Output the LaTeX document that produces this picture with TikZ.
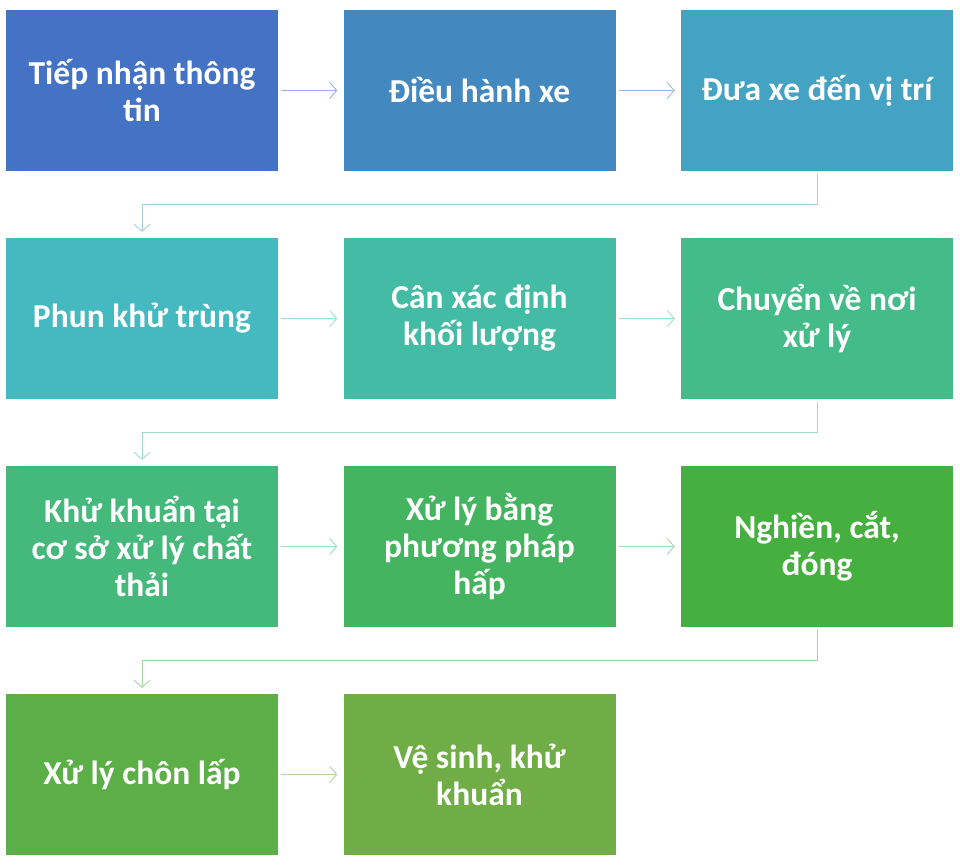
\documentclass[tikz,border=0pt]{standalone}
\usepackage{fontspec}
\setmainfont{Carlito}
\usetikzlibrary{arrows.meta}
\definecolor{c1}{HTML}{4472C4}
\definecolor{c2}{HTML}{4389BF}
\definecolor{c3}{HTML}{44A2C2}
\definecolor{c4}{HTML}{44B9BF}
\definecolor{c5}{HTML}{44BBA4}
\definecolor{c6}{HTML}{43BC8A}
\definecolor{c7}{HTML}{45B87C}
\definecolor{c8}{HTML}{45B460}
\definecolor{c9}{HTML}{45B03F}
\definecolor{c10}{HTML}{5CAF46}
\definecolor{c11}{HTML}{70AD47}
\tikzset{
  stepbox/.style={draw=none, minimum width=272pt, minimum height=161pt, inner sep=0pt,
    text=white, align=center, font=\fontsize{33.5}{37}\selectfont\bfseries},
  link/.style={line width=0.9pt, -{Straight Barb[length=7pt,width=16pt,line width=0.9pt]},
    shorten <=3pt, shorten >=6pt}
}
\begin{document}
\begin{tikzpicture}[x=1pt,y=-1pt]
\useasboundingbox (0,0) rectangle (960,867);
\node[stepbox, fill=c1] (n1) at (142,90.5) {Tiếp nhận thông\\tin};
\node[stepbox, fill=c2] (n2) at (479.5,90.5) {Điều hành xe};
\node[stepbox, fill=c3] (n3) at (817,90.5) {Đưa xe đến vị trí};
\node[stepbox, fill=c4] (n4) at (142,318.5) {Phun khử trùng};
\node[stepbox, fill=c5] (n5) at (479.5,318.5) {Cân xác định\\khối lượng};
\node[stepbox, fill=c6] (n6) at (817,318.5) {Chuyển về nơi\\xử lý};
\node[stepbox, fill=c7] (n7) at (142,546.5) {Khử khuẩn tại\\cơ sở xử lý chất\\thải};
\node[stepbox, fill=c8] (n8) at (479.5,546.5) {Xử lý bằng\\phương pháp\\hấp};
\node[stepbox, fill=c9] (n9) at (817,546.5) {Nghiền, cắt,\\đóng};
\node[stepbox, fill=c10] (n10) at (142,774.5) {Xử lý chôn lấp};
\node[stepbox, fill=c11] (n11) at (479.5,774.5) {Vệ sinh, khử\\khuẩn};
\draw[link, draw=c1!55] (n1) -- (n2);
\draw[link, draw=c2!55] (n2) -- (n3);
\draw[link, draw=c3!50] (n3.south) -- ++(0,33) -| (n4.north);
\draw[link, draw=c4!50] (n4) -- (n5);
\draw[link, draw=c5!50] (n5) -- (n6);
\draw[link, draw=c6!50] (n6.south) -- ++(0,33) -| (n7.north);
\draw[link, draw=c7!50] (n7) -- (n8);
\draw[link, draw=c8!50] (n8) -- (n9);
\draw[link, draw=c9!50] (n9.south) -- ++(0,33) -| (n10.north);
\draw[link, draw=c10!50] (n10) -- (n11);
\end{tikzpicture}
\end{document}
